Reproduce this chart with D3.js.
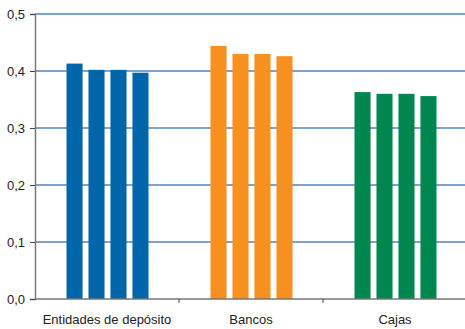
<!DOCTYPE html>
<html>
<head>
<meta charset="utf-8">
<script src="https://cdn.jsdelivr.net/npm/d3@7"></script>
<style>
  body { margin: 0; background: #fff; }
  text { font-family: "Liberation Sans", Arial, sans-serif; }
</style>
</head>
<body>
<div id="chart"></div>
<script>
// categories and series values
var categories = ["Entidades de depósito", "Bancos", "Cajas"];
var series = ["s1", "s2", "s3", "s4"];
var values = [
  [0.413, 0.402, 0.402, 0.397],   // Entidades de depósito
  [0.444, 0.430, 0.430, 0.426],   // Bancos
  [0.363, 0.360, 0.360, 0.356]    // Cajas
];
var colors = ["#0066aa", "#f7901e", "#00874f"];
var yTicks = [0, 0.1, 0.2, 0.3, 0.4, 0.5];

var margin = {top: 14, right: -2, bottom: 30, left: 35},
    width = 465 - margin.left - margin.right,
    height = 329 - margin.top - margin.bottom;

var svg = d3.select("#chart")
  .append("svg")
    .attr("width", 465)
    .attr("height", 329)
  .append("g")
    .attr("transform", "translate(" + margin.left + "," + margin.top + ")");

var x = d3.scaleBand()
  .domain(categories)
  .range([0, width])
  .padding(0);

var xs = d3.scaleBand()
  .domain(series)
  .range([0, x.bandwidth()])
  .paddingInner(0.27)
  .paddingOuter(1.41);

var y = d3.scaleLinear()
  .domain([0, 0.5])
  .range([height, 0]);

// gridlines
svg.append("g")
  .selectAll("line")
  .data(yTicks.slice(1))
  .enter()
  .append("line")
    .attr("x1", 0)
    .attr("x2", width)
    .attr("y1", function(d) { return y(d); })
    .attr("y2", function(d) { return y(d); })
    .attr("stroke", "#7ba3cf")
    .attr("stroke-width", 2);

// bars
var groups = svg.selectAll(".grp")
  .data(categories)
  .enter()
  .append("g")
    .attr("class", "grp")
    .attr("transform", function(d) { return "translate(" + (x(d) + 0.5) + ",0)"; });

groups.selectAll("rect")
  .data(function(d, i) {
    return values[i].map(function(v, j) { return {s: series[j], v: v, c: colors[i]}; });
  })
  .enter()
  .append("rect")
    .attr("x", function(d) { return xs(d.s); })
    .attr("width", xs.bandwidth())
    .attr("y", function(d) { return y(d.v); })
    .attr("height", function(d) { return height - y(d.v); })
    .attr("fill", function(d) { return d.c; });

// y axis
var yAxis = svg.append("g")
  .call(d3.axisLeft(y)
    .tickValues(yTicks)
    .tickSize(5)
    .tickPadding(5)
    .tickFormat(function(d) { return d3.format(".1f")(d).replace(".", ","); }));
yAxis.select(".domain").attr("stroke", "#777").attr("stroke-width", 1.5);
yAxis.selectAll(".tick line").attr("stroke", "#444");
yAxis.selectAll("text").style("font-size", "13px").attr("fill", "#222");

// x axis
var xAxis = svg.append("g")
  .attr("transform", "translate(0," + height + ")");
xAxis.append("line")
  .attr("x1", 0).attr("x2", width)
  .attr("stroke", "#777").attr("stroke-width", 1.5);
xAxis.selectAll(".tk")
  .data(categories.slice(1))
  .enter()
  .append("line")
    .attr("x1", function(d) { return x(d); })
    .attr("x2", function(d) { return x(d); })
    .attr("y1", 0).attr("y2", 4)
    .attr("stroke", "#444");
xAxis.selectAll(".lbl")
  .data(categories)
  .enter()
  .append("text")
    .attr("x", function(d) { return x(d) + x.bandwidth() / 2; })
    .attr("y", 25)
    .attr("text-anchor", "middle")
    .style("font-size", "13px")
    .attr("fill", "#222")
    .text(function(d) { return d; });
</script>
</body>
</html>
